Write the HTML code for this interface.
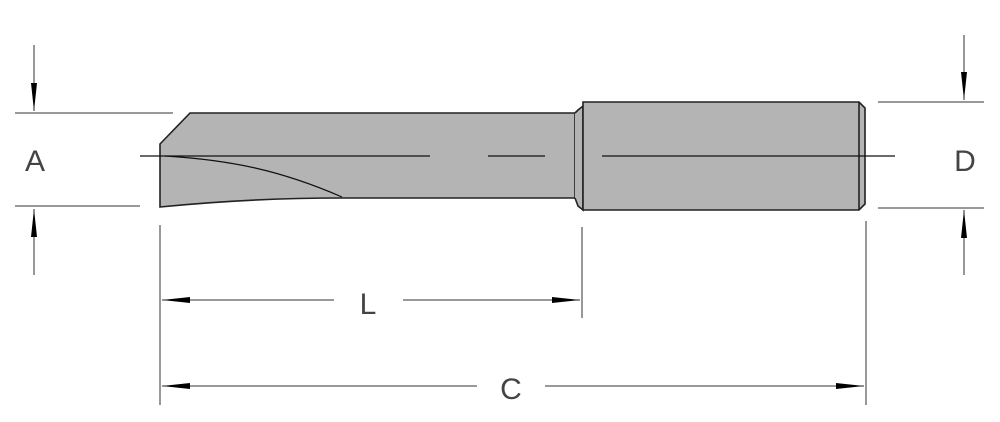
<!DOCTYPE html>
<html><head><style>html,body{margin:0;padding:0;background:#fff;}svg{display:block}</style></head>
<body>
<svg width="1000" height="422" viewBox="0 0 1000 422" xmlns="http://www.w3.org/2000/svg">
<defs>
<marker id="ar" markerWidth="10" markerHeight="8" refX="10" refY="4" orient="auto" markerUnits="userSpaceOnUse" viewBox="0 0 10 8">
<path d="M0,1.5 L10,4 L0,6.5Z" fill="#000"/></marker>
<marker id="ah" markerWidth="28" markerHeight="8" refX="28" refY="4" orient="auto" markerUnits="userSpaceOnUse" viewBox="0 0 28 8">
<path d="M0,1 L28,4 L0,7Z" fill="#000"/></marker>
</defs>
<g stroke="#222" stroke-width="1.6" fill="#b4b4b4">
<!-- cutter body -->
<path d="M160,144 L190,113 L575,113 L575,198 L342,198 Q250,198 160,207 Z"/>
<!-- neck -->
<path d="M575,113 L578,110 L583,106 L583,210 L578,206 L575,198"/>
<!-- shank -->
<path d="M583,102 L859,102 L865,108 L865,204 L859,210 L583,210 Z"/>
<line x1="859" y1="102" x2="859" y2="210"/>
</g>
<g stroke="#111" stroke-width="1.2" fill="none">
<path d="M165,156 C230,160 280,170 342,197"/>
<line x1="140" y1="156" x2="430" y2="156"/>
<line x1="488" y1="156" x2="545" y2="156"/>
<line x1="602" y1="156" x2="895" y2="156"/>
</g>
<g stroke="#333" stroke-width="1" fill="none">
<line x1="15" y1="113" x2="173" y2="113"/>
<line x1="15" y1="206" x2="140" y2="206"/>
<line x1="878" y1="102" x2="984" y2="102"/>
<line x1="878" y1="208" x2="984" y2="208"/>
<line x1="160" y1="225" x2="160" y2="405"/>
<line x1="582" y1="227" x2="582" y2="318"/>
<line x1="866" y1="221" x2="866" y2="405"/>
<line x1="34" y1="45" x2="34" y2="111" marker-end="url(#ah)"/>
<line x1="34" y1="275" x2="34" y2="209" marker-end="url(#ah)"/>
<line x1="964" y1="35" x2="964" y2="100" marker-end="url(#ah)"/>
<line x1="964" y1="275" x2="964" y2="210" marker-end="url(#ah)"/>
<line x1="334" y1="300" x2="162" y2="300" marker-end="url(#ah)"/>
<line x1="403" y1="300" x2="580" y2="300" marker-end="url(#ah)"/>
<line x1="477" y1="386" x2="162" y2="386" marker-end="url(#ah)"/>
<line x1="545" y1="386" x2="864" y2="386" marker-end="url(#ah)"/>
</g>
<g font-family="Liberation Sans, sans-serif" font-size="30" fill="#444" text-anchor="middle" font-weight="300">
<text x="35" y="171">A</text>
<text x="965" y="171">D</text>
<text x="368" y="314">L</text>
<text x="511" y="399">C</text>
</g>
</svg>
</body></html>
